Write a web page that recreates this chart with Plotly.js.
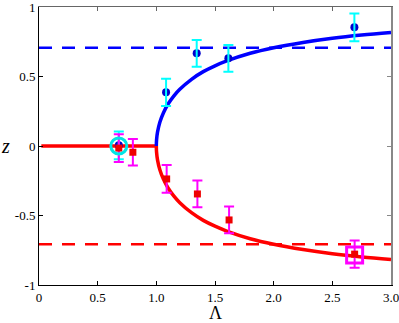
<!DOCTYPE html>
<html>
<head>
<meta charset="utf-8">
<script src="https://cdn.plot.ly/plotly-3.0.1.min.js"></script>
<style>html,body{margin:0;padding:0;background:#fff;}#plot{width:399px;height:323px;}</style>
</head>
<body>
<div id="plot"></div>
<script>
// Theory curves
const flatLam = [0.02, 1.0];
const flatZ   = [0.0, 0.0];
const upperLam = [1.0, 1.002, 1.01, 1.03, 1.06, 1.1, 1.15, 1.2, 1.3, 1.4, 1.5, 1.6, 1.8, 2.0, 2.25, 2.5, 2.75, 3.0];
const upperZ   = [0.0, 0.045, 0.0995, 0.171, 0.238, 0.302, 0.361, 0.408, 0.480, 0.535, 0.577, 0.612, 0.667, 0.707, 0.745, 0.775, 0.798, 0.816];
const lowerLam = [1.0, 1.002, 1.01, 1.03, 1.06, 1.1, 1.15, 1.2, 1.3, 1.4, 1.5, 1.6, 1.8, 2.0, 2.25, 2.5, 2.75, 3.0];
const lowerZ   = [0.0, -0.045, -0.0995, -0.171, -0.238, -0.302, -0.361, -0.408, -0.480, -0.535, -0.577, -0.612, -0.667, -0.707, -0.745, -0.775, -0.798, -0.816];
// Asymptotes
const asymLam = [0.0, 3.0];
const asymUp  = [0.707, 0.707];
const asymLow = [-0.707, -0.707];
// Data: upper branch (blue)
const blueLam = [0.68, 1.083, 1.344, 1.614, 2.688];
const blueZ   = [0.005, 0.386, 0.667, 0.631, 0.854];
const blueErr = [0.1, 0.098, 0.096, 0.096, 0.1];
// Data: lower branch (red)
const redLam = [0.68, 0.80, 1.088, 1.35, 1.62, 2.69];
const redZ   = [-0.015, -0.045, -0.237, -0.345, -0.532, -0.778];
const redErr = [0.1, 0.096, 0.1, 0.096, 0.096, 0.098];
// Highlighted points
const circLam = [0.68], circZ = [0.0];
const sqLam = [2.69], sqZ = [-0.784];

const xTicks = [0, 0.5, 1.0, 1.5, 2.0, 2.5, 3.0];
const xTickText = ['0', '0.5', '1.0', '1.5', '2.0', '2.5', '3.0'];
const yTicks = [-1, -0.5, 0, 0.5, 1];
const yTickText = ['-1', '-0.5', '0', '0.5', '1'];

const serif = "'Liberation Serif', 'Times New Roman', Times, serif";

const traces = [
  {x: flatLam, y: flatZ, mode: 'lines', line: {color: '#ff0000', width: 3.5}},
  {x: lowerLam, y: lowerZ, mode: 'lines', line: {color: '#ff0000', width: 3.5, shape: 'spline'}},
  {x: upperLam, y: upperZ, mode: 'lines', line: {color: '#0000ff', width: 3.5, shape: 'spline'}},
  {x: asymLam, y: asymUp, mode: 'lines', line: {color: '#0000ff', width: 2.5, dash: '13px,10px'}},
  {x: asymLam, y: asymLow, mode: 'lines', line: {color: '#ff0000', width: 2.5, dash: '13px,10px'}},
  {x: blueLam, y: blueZ, mode: 'markers', marker: {symbol: 'circle', color: '#0000cc', size: 8}},
  {x: blueLam, y: blueZ, mode: 'markers', marker: {opacity: 0, size: 1},
   error_y: {type: 'data', array: blueErr, visible: true, color: '#00ffff', thickness: 2, width: 5}},
  {x: redLam, y: redZ, mode: 'markers', marker: {opacity: 0, size: 1},
   error_y: {type: 'data', array: redErr, visible: true, color: '#ff00ff', thickness: 2, width: 5}},
  {x: redLam, y: redZ, mode: 'markers', marker: {symbol: 'square', color: '#ee0000', size: 7}},
  {x: circLam, y: circZ, mode: 'markers', marker: {symbol: 'circle-open', color: '#00e5e5', size: 16, line: {color: '#00e5e5', width: 3}}},
  {x: sqLam, y: sqZ, mode: 'markers', marker: {symbol: 'square-open', color: '#ff00ff', size: 16, line: {color: '#ff00ff', width: 3}}},
  {x: [1.5], y: [0], xaxis: 'x2', yaxis: 'y2', mode: 'markers', marker: {opacity: 0}}
];

const layout = {
  width: 399, height: 323,
  margin: {l: 39, r: 8, t: 7, b: 38},
  showlegend: false,
  paper_bgcolor: '#fff', plot_bgcolor: '#fff',
  font: {family: serif, size: 13, color: '#000'},
  xaxis: {
    range: [0, 3], tickvals: xTicks, ticktext: xTickText, ticklabeloverflow: 'allow',
    tickfont: {family: serif, size: 13, color: '#000'},
    showgrid: false, zeroline: false, showline: true, linecolor: '#000', linewidth: 1,
    ticks: 'inside', ticklen: 4, tickcolor: '#000'
  },
  yaxis: {
    range: [-1, 1], tickvals: yTicks, ticktext: yTickText, ticklabeloverflow: 'allow',
    tickfont: {family: serif, size: 13, color: '#000'},
    showgrid: false, zeroline: false, showline: true, linecolor: '#000', linewidth: 1,
    ticks: 'inside', ticklen: 4, tickcolor: '#000'
  },
  xaxis2: {
    overlaying: 'x', side: 'top', range: [0, 3], tickvals: xTicks, showticklabels: false,
    showgrid: false, zeroline: false, showline: true, linecolor: '#666', linewidth: 1.5,
    ticks: 'inside', ticklen: 4, tickcolor: '#666'
  },
  yaxis2: {
    overlaying: 'y', side: 'right', range: [-1, 1], tickvals: yTicks, showticklabels: false,
    showgrid: false, zeroline: false, showline: true, linecolor: '#888', linewidth: 2,
    ticks: 'inside', ticklen: 4, tickcolor: '#888'
  },
  annotations: [
    {text: 'z', xref: 'paper', yref: 'y', x: 0, y: 0, xanchor: 'center', yanchor: 'middle',
     xshift: -34, showarrow: false, font: {family: serif, size: 20, style: 'italic'}},
    {text: 'Λ', xref: 'paper', yref: 'paper', x: 0.5, y: 0, xanchor: 'center', yanchor: 'middle',
     yshift: -28, showarrow: false, font: {family: serif, size: 18}}
  ]
};

Plotly.newPlot('plot', traces, layout, {staticPlot: true, displayModeBar: false});
</script>
</body>
</html>
